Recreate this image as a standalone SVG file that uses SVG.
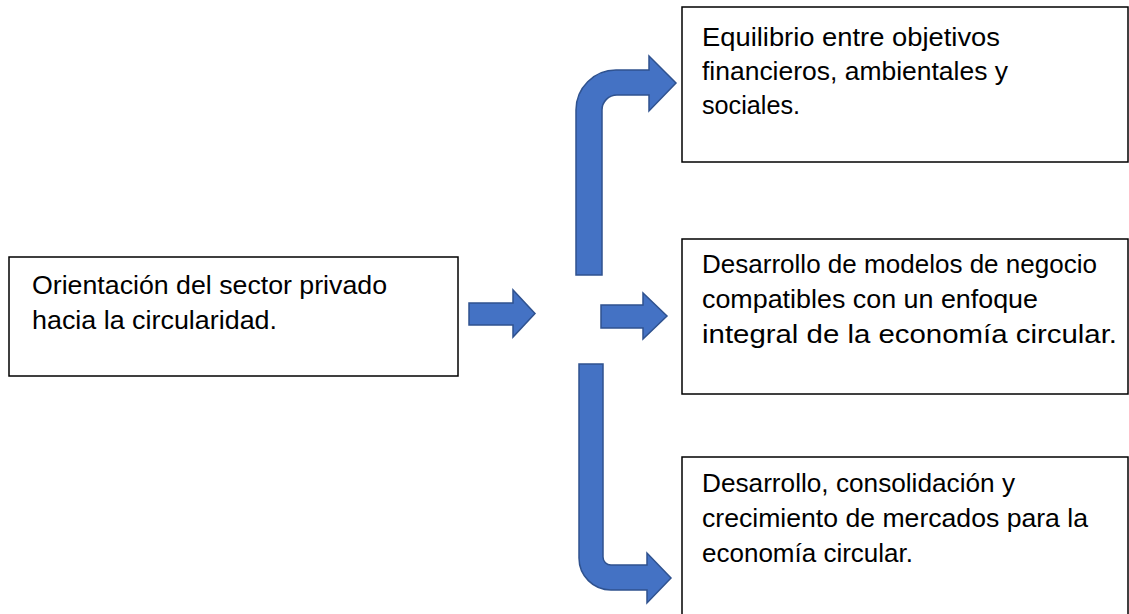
<svg xmlns="http://www.w3.org/2000/svg" width="1129" height="614" viewBox="0 0 1129 614">
<style>
.box{fill:#fff;stroke:#000;stroke-width:1.5}
.t{font-family:"Liberation Sans",Arial,sans-serif;font-size:25px;fill:#000}
.arr{fill:#4472C4;stroke:#2F528F;stroke-width:1.5;stroke-linejoin:miter}
</style>
<rect width="1129" height="614" fill="#fff"/>
<g id="node-origen">
<rect class="box" x="9" y="257" width="449" height="119"/>
<text class="t" x="32" y="294" textLength="355" lengthAdjust="spacingAndGlyphs">Orientación del sector privado</text>
<text class="t" x="32" y="329" textLength="245" lengthAdjust="spacingAndGlyphs">hacia la circularidad.</text>
</g>
<g id="node-equilibrio">
<rect class="box" x="682" y="7" width="446" height="155"/>
<text class="t" x="702" y="46" textLength="298" lengthAdjust="spacingAndGlyphs">Equilibrio entre objetivos</text>
<text class="t" x="702" y="80" textLength="306" lengthAdjust="spacingAndGlyphs">financieros, ambientales y</text>
<text class="t" x="702" y="114" textLength="98" lengthAdjust="spacingAndGlyphs">sociales.</text>
</g>
<g id="node-modelos">
<rect class="box" x="682" y="239" width="446" height="155"/>
<text class="t" x="702" y="273" textLength="395" lengthAdjust="spacingAndGlyphs">Desarrollo de modelos de negocio</text>
<text class="t" x="702" y="308" textLength="336" lengthAdjust="spacingAndGlyphs">compatibles con un enfoque</text>
<text class="t" x="702" y="343" textLength="415" lengthAdjust="spacingAndGlyphs">integral de la economía circular.</text>
</g>
<g id="node-mercados">
<rect class="box" x="682" y="457" width="446" height="170"/>
<text class="t" x="702" y="492" textLength="313" lengthAdjust="spacingAndGlyphs">Desarrollo, consolidación y</text>
<text class="t" x="702" y="527" textLength="386" lengthAdjust="spacingAndGlyphs">crecimiento de mercados para la</text>
<text class="t" x="702" y="562" textLength="211" lengthAdjust="spacingAndGlyphs">economía circular.</text>
</g>
<g id="connectors">
<path class="arr" d="M469,303 H513 V290 L535,313.5 L513,337 V325 H469 Z"/>
<path class="arr" d="M601,305 H643 V293 L667,316 L643,339 V328 H601 Z"/>
<path class="arr" d="M576,275 V110 A40,40 0 0 1 616,70 H649 V56 L676,83 L649,111 V95 H617 A15,15 0 0 0 602,110 V275 Z"/>
<path class="arr" d="M579,364 V558 A32,32 0 0 0 611,590 H647 V603 L671,578 L647,553 V565 H611 A8,8 0 0 1 603,557 V364 Z"/>
</g>
</svg>
